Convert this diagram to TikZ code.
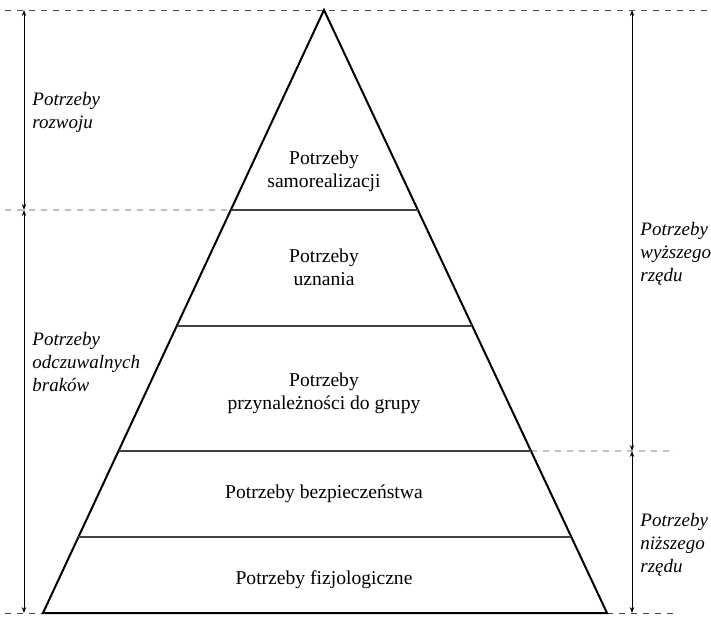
\documentclass[tikz,border=0pt]{standalone}
\usepackage{fontspec}
\setmainfont{LiberationSerif}[Extension=.ttf, UprightFont=*-Regular, ItalicFont=*-Italic, BoldFont=*-Bold, BoldItalicFont=*-BoldItalic]
\usetikzlibrary{arrows.meta,calc}

\begin{document}
\begin{tikzpicture}[x=0.5pt, y=0.5pt, font=\fontsize{9.8}{11.5}\selectfont,
        level/.style={line width=0.8pt, black!75},
        guide/.style={dashed, thin, black!70},
        span/.style={{Stealth[length=3pt,width=2.2pt]}-{Stealth[length=3pt,width=2.2pt]}, line width=0.5pt},
        sidetext/.style={font=\fontsize{9.5}{11.5}\selectfont\itshape, align=left, anchor=west, inner sep=0pt},
        tiertext/.style={align=center}]
        \useasboundingbox (0,0) rectangle (711,616);

        \coordinate (T) at (324,606);
        \coordinate (BL) at (43,3);
        \coordinate (BR) at (607,3);
        \foreach \f/\n in {0.3317/a, 0.524/b, 0.7313/c, 0.874/d} {
            \coordinate (L\n) at ($(T)!\f!(BL)$);
            \coordinate (R\n) at ($(T)!\f!(BR)$);
        }

        % guide lines
        \coordinate (GT1) at (5,606);
        \coordinate (GT2) at (710,606);
        \coordinate (GA) at (5,406);
        \coordinate (GC) at (675,165);
        \coordinate (GB1) at (5,3);
        \coordinate (GB2) at (675,3);
        \draw[guide] (GT1) -- (GT2);
        \draw[guide] (GA) -- (La);
        \draw[guide] (Rc) -- (GC);
        \draw[guide] (GB1) -- (BL);
        \draw[guide] (BR) -- (GB2);

        % pyramid
        \draw[line width=1pt, line join=miter] (T) -- (BL) -- (BR) -- cycle;
        \foreach \n in {a, b, c, d}
            \draw[level] (L\n) -- (R\n);

        \node (S5) [tiertext] at (324,445) {Potrzeby\\samorealizacji};
        \node (S4) [tiertext] at (324,349) {Potrzeby\\uznania};
        \node (S3) [tiertext] at (324,223) {Potrzeby\\przynależności do grupy};
        \node (S2) [tiertext] at (324,122) {Potrzeby bezpieczeństwa};
        \node (S1) [tiertext] at (324,36) {Potrzeby fizjologiczne};

        % spans
        \coordinate (LT) at (24,606);
        \coordinate (LM) at (24,406);
        \coordinate (LB) at (24,3);
        \coordinate (RT) at (632,606);
        \coordinate (RM) at (632,165);
        \coordinate (RB) at (632,3);
        \draw[span] (LT) -- (LM);
        \draw[span] (LM) -- (LB);
        \draw[span] (RT) -- (RM);
        \draw[span] (RM) -- (RB);

        \node (rozwoj) [sidetext] at (32,504) {Potrzeby\\rozwoju};
        \node (braki) [sidetext] at (32,254) {Potrzeby\\odczuwalnych\\braków};
        \node (wyzsze) [sidetext] at (640,362) {Potrzeby\\wyższego\\rzędu};
        \node (nizsze) [sidetext] at (640,71) {Potrzeby\\niższego\\rzędu};
    \end{tikzpicture}
\end{document}
